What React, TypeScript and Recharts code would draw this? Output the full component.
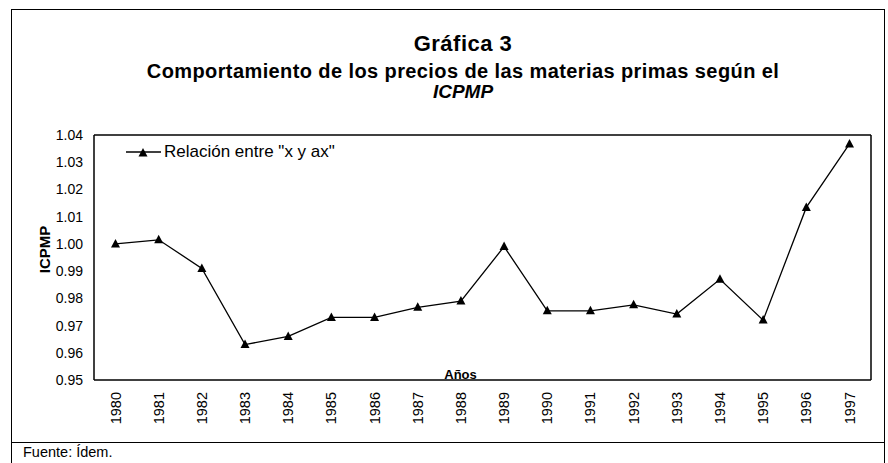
import React from 'react';
import { LineChart, Line, XAxis, YAxis, Legend } from 'recharts';

const years = [
  '1980', '1981', '1982', '1983', '1984', '1985', '1986', '1987', '1988',
  '1989', '1990', '1991', '1992', '1993', '1994', '1995', '1996', '1997',
];
const icpmp = [
  1.0, 1.0015, 0.991, 0.963, 0.966, 0.973, 0.973, 0.9767, 0.979,
  0.999, 0.9754, 0.9754, 0.9776, 0.9742, 0.987, 0.972, 1.0134, 1.0367,
];
const yTicks = [0.95, 0.96, 0.97, 0.98, 0.99, 1.0, 1.01, 1.02, 1.03, 1.04];
const seriesName = 'Relación entre "x y ax"';

const data = years.map((year, i) => ({ year, value: icpmp[i] }));

const FONT = '"Liberation Sans", Arial, Helvetica, sans-serif';

const triPath = (cx: number, cy: number) =>
  `M${cx},${cy - 5} L${cx + 4.5},${cy + 3.5} L${cx - 4.5},${cy + 3.5} Z`;

const TriangleDot = (props: any) => {
  const { cx, cy, index } = props;
  if (cx == null || cy == null) return null;
  return <path key={index} d={triPath(cx, cy)} fill="#000" />;
};

const YearTick = (props: any) => {
  const { x, y, payload } = props;
  return (
    <text
      x={x}
      y={y}
      dy={5}
      transform={`rotate(-90, ${x}, ${y})`}
      textAnchor="end"
      fontSize={14.5}
      fontFamily={FONT}
      fill="#000"
    >
      {payload.value}
    </text>
  );
};

const YLabel = (props: any) => {
  const { viewBox } = props;
  if (!viewBox) return null;
  const x = viewBox.x + 11;
  const y = viewBox.y + viewBox.height / 2 - 8;
  return (
    <text
      x={x}
      y={y}
      dy="0.35em"
      transform={`rotate(-90, ${x}, ${y})`}
      textAnchor="middle"
      fontSize={15}
      fontWeight="bold"
      fontFamily={FONT}
      fill="#000"
    >
      ICPMP
    </text>
  );
};

const LegendBox = () => (
  <div style={{ display: 'flex', alignItems: 'center', fontFamily: FONT, fontSize: 17, color: '#000', whiteSpace: 'nowrap' }}>
    <svg width={38} height={14} style={{ flex: 'none' }}>
      <line x1={0} y1={7} x2={35} y2={7} stroke="#000" strokeWidth={1.3} />
      <path d={triPath(17, 8)} fill="#000" />
    </svg>
    <span>{seriesName}</span>
  </div>
);

const titleBase = {
  position: 'absolute' as const,
  left: 0,
  width: 926,
  textAlign: 'center' as const,
  fontFamily: FONT,
  fontWeight: 'bold' as const,
  color: '#000',
};

export default function App() {
  return (
    <div style={{ position: 'absolute', left: 0, top: 0, width: 888, height: 463, background: '#fff', overflow: 'hidden' }}>
      {/* outer frame */}
      <div style={{ position: 'absolute', left: 11, top: 9, width: 872, height: 470, borderTop: '1.5px solid #000', borderLeft: '1.5px solid #000', borderRight: '1.5px solid #000' }} />
      <div style={{ position: 'absolute', left: 11, top: 442, width: 874, borderTop: '1.5px solid #000' }} />

      <div style={{ ...titleBase, top: 33, fontSize: 22, lineHeight: '22px', letterSpacing: 0.5 }}>Gráfica 3</div>
      <div style={{ ...titleBase, top: 61, fontSize: 20, lineHeight: '20px', letterSpacing: 0.4 }}>
        Comportamiento de los precios de las materias primas según el
      </div>
      <div style={{ ...titleBase, top: 82, fontSize: 19, lineHeight: '19px', fontStyle: 'italic' }}>ICPMP</div>

      <div style={{ position: 'absolute', left: 0, top: 0 }}>
        <LineChart
          width={888}
          height={463}
          data={data}
          margin={{ top: 114, right: 16, bottom: 33, left: 34 }}
        >
          <XAxis
            dataKey="year"
            height={50}
            interval={0}
            padding={{ left: 21.5, right: 21.5 }}
            tickSize={0}
            tickMargin={12}
            tick={<YearTick />}
            axisLine={{ stroke: '#000', strokeWidth: 1.5 }}
            label={{ value: 'Años', position: 'top', offset: 1, dx: -22, fontSize: 13, fontWeight: 'bold', fontFamily: FONT, fill: '#000' }}
          />
          <XAxis
            xAxisId="top"
            dataKey="year"
            orientation="top"
            height={1}
            tick={false}
            tickLine={false}
            axisLine={{ stroke: '#000', strokeWidth: 1.5 }}
          />
          <YAxis
            width={60}
            domain={[0.95, 1.04]}
            ticks={yTicks}
            interval={0}
            tickSize={0}
            tickMargin={11}
            tickFormatter={(v: number) => v.toFixed(2)}
            tick={{ fontSize: 14, fontFamily: FONT, fill: '#000' }}
            axisLine={{ stroke: '#000', strokeWidth: 1.5 }}
            label={<YLabel />}
          />
          <YAxis
            yAxisId="right"
            orientation="right"
            width={1}
            domain={[0.95, 1.04]}
            tick={false}
            tickLine={false}
            axisLine={{ stroke: '#000', strokeWidth: 1.5 }}
          />
          <Legend
            verticalAlign="top"
            align="left"
            content={<LegendBox />}
            wrapperStyle={{ left: 126, top: 142, width: 320 }}
          />
          <Line
            type="linear"
            dataKey="value"
            name={seriesName}
            stroke="#000"
            strokeWidth={1.3}
            dot={<TriangleDot />}
            activeDot={false}
            isAnimationActive={false}
          />
        </LineChart>
      </div>

      <div style={{ position: 'absolute', left: 23, top: 445, fontFamily: FONT, fontSize: 14.5, lineHeight: '14.5px', color: '#000' }}>
        Fuente: Ídem.
      </div>
    </div>
  );
}
